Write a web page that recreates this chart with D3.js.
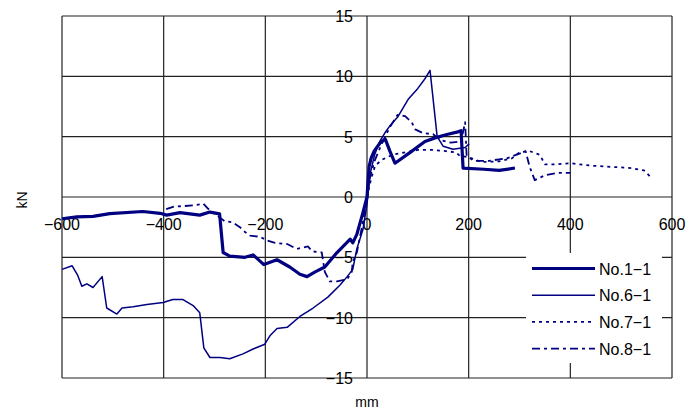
<!DOCTYPE html>
<html>
<head>
<meta charset="utf-8">
<script src="https://cdn.jsdelivr.net/npm/d3@7"></script>
<style>
  body { margin: 0; background: #fff; }
  text { font-family: "Liberation Sans", Arial, sans-serif; fill: #000; }
</style>
</head>
<body>
<script>
// axis ticks
var xTicks = [-600, -400, -200, 0, 200, 400, 600];
var yTicks = [-15, -10, -5, 0, 5, 10, 15];

// series names
var seriesNames = ['No.1-1', 'No.6-1', 'No.7-1', 'No.8-1'];

// No.1-1 : displacement (mm), load (kN)
var s1x = [-600, -571, -539, -506, -441, -407, -394, -368, -329, -309, -290, -283, -270, -240, -224, -203, -177, -152, -132, -118, -102, -83, -59, -33, -28, -20, -8, 0, 4, 8, 14, 26, 36, 45, 55, 85, 114, 134, 159, 179, 185, 189, 230, 260, 291];
var s1y = [-1.8, -1.65, -1.6, -1.38, -1.2, -1.35, -1.5, -1.3, -1.5, -1.25, -1.4, -4.6, -4.9, -5.0, -4.8, -5.6, -5.2, -5.8, -6.4, -6.6, -6.2, -5.8, -4.6, -3.5, -3.8, -3.1, -1.3, 0, 2.5, 3.2, 3.8, 4.5, 4.8, 3.8, 2.8, 3.7, 4.6, 4.9, 5.2, 5.4, 5.5, 2.4, 2.3, 2.2, 2.4];

// No.6-1
var s6x = [-600, -580, -569, -561, -551, -539, -521, -512, -492, -482, -460, -433, -401, -382, -362, -342, -329, -321, -309, -289, -270, -244, -224, -201, -191, -177, -157, -132, -106, -77, -53, -39, -28, -20, -8, 0, 6, 15, 25, 35, 45, 60, 81, 100, 114, 124, 138, 150, 169, 193, 201];
var s6y = [-6.0, -5.7, -6.5, -7.4, -7.2, -7.5, -6.6, -9.2, -9.7, -9.2, -9.1, -8.9, -8.75, -8.5, -8.5, -9.0, -9.6, -12.5, -13.3, -13.3, -13.4, -13.0, -12.6, -12.2, -11.5, -10.9, -10.8, -9.9, -9.2, -8.3, -7.3, -6.6, -6.0, -4.3, -2.7, -0.6, 1.9, 3.5, 4.6, 5.3, 5.9, 6.6, 8.1, 9.0, 9.8, 10.5, 5.0, 4.2, 3.95, 4.1, 4.4];

// No.7-1
var s7x = [0, 8, 16, 30, 50, 75, 100, 130, 155, 175, 183, 200, 225, 260, 285, 300, 320, 340, 350, 370, 400, 440, 480, 520, 545, 558];
var s7y = [0, 1.5, 2.6, 3.1, 3.5, 3.7, 3.9, 3.9, 3.8, 3.7, 3.4, 3.3, 2.9, 2.95, 3.2, 3.7, 3.8, 3.5, 2.7, 2.7, 2.8, 2.6, 2.5, 2.4, 2.2, 1.65];

// No.8-1
var s8x = [-395, -380, -360, -342, -322, -312, -280, -264, -250, -240, -230, -210, -197, -181, -157, -138, -116, -108, -89, -83, -73, -59, -39, -30, -28, -20, -10, 0, 5, 15, 30, 45, 60, 75, 88, 95, 110, 130, 145, 165, 185, 193, 196, 210, 240, 275, 300, 312, 320, 330, 350, 375, 400];
var s8y = [-1.0, -0.8, -0.75, -0.7, -0.55, -1.0, -2.0, -2.1, -2.5, -2.9, -3.2, -3.3, -3.6, -3.8, -3.9, -4.3, -4.1, -4.5, -4.6, -6.2, -7.0, -7.0, -6.8, -6.2, -5.4, -4.6, -2.5, 0, 1.5, 3.0, 4.5, 5.8, 6.8, 6.7, 6.2, 5.6, 5.3, 5.2, 4.7, 4.5, 4.6, 6.2, 3.4, 3.0, 3.0, 3.2, 3.6, 3.8, 2.5, 1.4, 1.8, 2.0, 2.0];

function setChart(){
    var width = 686,
        height = 409;
    var left = 62, right = 672, top = 16, bottom = 378;

    var svg = d3.select('body')
        .append('svg')
        .attr('width', width)
        .attr('height', height);

    var x = d3.scaleLinear().domain([-600, 600]).range([left, right]);
    var y = d3.scaleLinear().domain([-15, 15]).range([bottom, top]);

    //gridlines
    svg.selectAll('.vgrid')
        .data(xTicks)
        .enter()
        .append('line')
        .attr('x1', function(d){ return x(d); })
        .attr('x2', function(d){ return x(d); })
        .attr('y1', top)
        .attr('y2', bottom)
        .attr('stroke', '#222')
        .attr('stroke-width', 1.2);
    svg.selectAll('.hgrid')
        .data(yTicks)
        .enter()
        .append('line')
        .attr('y1', function(d){ return y(d); })
        .attr('y2', function(d){ return y(d); })
        .attr('x1', left)
        .attr('x2', right)
        .attr('stroke', '#222')
        .attr('stroke-width', 1.2);

    //tick labels sit on the zero lines
    svg.selectAll('.xlab')
        .data(xTicks)
        .enter()
        .append('text')
        .attr('x', function(d){ return x(d); })
        .attr('y', y(0) + 33)
        .attr('text-anchor', 'middle')
        .attr('font-size', 16)
        .text(function(d){ return String(d).replace('-', '\u2212'); });
    svg.selectAll('.ylab')
        .data(yTicks)
        .enter()
        .append('text')
        .attr('x', x(0) - 14)
        .attr('y', function(d){ return y(d) + 6; })
        .attr('text-anchor', 'end')
        .attr('font-size', 16)
        .text(function(d){ return String(d).replace('-', '\u2212'); });

    //axis titles
    svg.append('text')
        .attr('x', 367)
        .attr('y', 407)
        .attr('text-anchor', 'middle')
        .attr('font-size', 14)
        .text('mm');
    svg.append('text')
        .attr('transform', 'translate(27,200) rotate(-90)')
        .attr('text-anchor', 'middle')
        .attr('font-size', 14)
        .text('kN');

    //series
    var series = [
        {xs: s1x, ys: s1y, w: 3.2, dash: null},
        {xs: s6x, ys: s6y, w: 1.5, dash: null},
        {xs: s7x, ys: s7y, w: 1.8, dash: '3,4'},
        {xs: s8x, ys: s8y, w: 1.8, dash: '8,4,3,4'}
    ];
    var line = d3.line()
        .x(function(d){ return x(d[0]); })
        .y(function(d){ return y(d[1]); });

    svg.selectAll('.series')
        .data(series)
        .enter()
        .append('path')
        .attr('d', function(s){ return line(d3.zip(s.xs, s.ys)); })
        .attr('fill', 'none')
        .attr('stroke', '#000080')
        .attr('stroke-width', function(s){ return s.w; })
        .attr('stroke-linejoin', 'round')
        .attr('stroke-dasharray', function(s){ return s.dash; });

    //legend
    var legend = svg.append('g');
    legend.append('rect')
        .attr('x', 526)
        .attr('y', 253)
        .attr('width', 136)
        .attr('height', 110)
        .attr('fill', '#fff');
    var rows = legend.selectAll('.row')
        .data(series)
        .enter()
        .append('g')
        .attr('transform', function(d, i){ return 'translate(0,' + (268.5 + i * 26.7) + ')'; });
    rows.append('line')
        .attr('x1', 532)
        .attr('x2', 595)
        .attr('stroke', '#000080')
        .attr('stroke-width', function(s){ return s.w; })
        .attr('stroke-dasharray', function(s){ return s.dash; });
    rows.append('text')
        .attr('x', 599)
        .attr('y', 6)
        .attr('font-size', 16)
        .text(function(d, i){ return seriesNames[i].replace('-', '\u2212'); });
};

window.onload = setChart();
</script>
</body>
</html>
